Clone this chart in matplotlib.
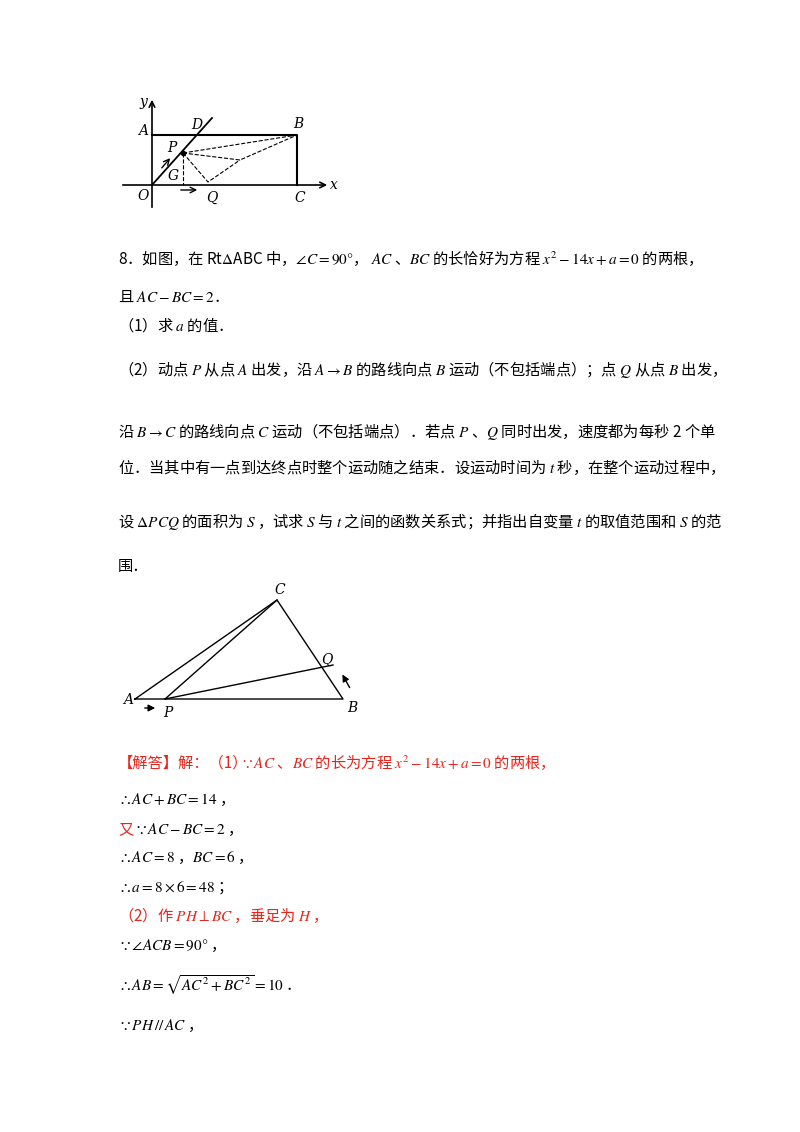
import matplotlib
matplotlib.use("Agg")
import matplotlib.pyplot as plt

plt.rcParams['font.family'] = ['Noto Sans CJK SC', 'DejaVu Sans']
plt.rcParams['mathtext.fontset'] = 'stix'

fig = plt.figure(figsize=(8, 11.32), dpi=100)
ax = fig.add_axes([0, 0, 1, 1])
ax.set_xlim(0, 800); ax.set_ylim(1132, 0); ax.axis('off')

# top diagram
O = (152, 185); A = (152, 135); B = (297, 135); C = (297, 185)
D = (200, 128); P = (183, 153); Q = (208, 182); G = (183, 185)
ax.annotate('', xy=(330, 185), xytext=(120, 185), arrowprops=dict(arrowstyle='->', lw=1.2))
ax.annotate('', xy=(152, 97), xytext=(152, 210), arrowprops=dict(arrowstyle='->', lw=1.2))
ax.plot([A[0], B[0], C[0]], [A[1], B[1], C[1]], 'k-', lw=1.5)
ax.plot([O[0], 212], [O[1], 118], 'k-', lw=1.3)
ax.plot([P[0], B[0]], [P[1], B[1]], 'k--', lw=0.8)
ax.plot([P[0], Q[0], 240], [P[1], Q[1], 160], 'k--', lw=0.8)
ax.plot([P[0], 240, B[0]], [P[1], 160, B[1]], 'k--', lw=0.8)
ax.plot([P[0], G[0]], [P[1], G[1]], 'k--', lw=0.8)
ax.plot(*P, 'ko', ms=3)
ax.annotate('', xy=(172, 156), xytext=(160, 170), arrowprops=dict(arrowstyle='->', lw=1))
ax.annotate('', xy=(200, 190), xytext=(178, 190), arrowprops=dict(arrowstyle='->', lw=1))
for t, x, y in [('y', 143, 102), ('A', 143, 131), ('D', 197, 125), ('B', 298, 124), ('P', 172, 148),
                ('G', 173, 176), ('O', 143, 196), ('Q', 212, 198), ('C', 300, 198), ('x', 334, 185)]:
    ax.text(x, y, t, fontsize=10, style='italic', family='DejaVu Serif', ha='center', va='center')

# triangle diagram
tA = (135, 699); tB = (343, 699); tC = (277, 600); tP = (165, 699); tQ = (333, 665)
ax.plot([tA[0], tB[0], tC[0], tA[0]], [tA[1], tB[1], tC[1], tA[1]], 'k-', lw=1)
ax.plot([tP[0], tC[0]], [tP[1], tC[1]], 'k-', lw=1)
ax.plot([tP[0], tQ[0]], [tP[1], tQ[1]], 'k-', lw=1)
ax.annotate('', xy=(158, 708), xytext=(142, 708), arrowprops=dict(arrowstyle='-|>', lw=1, color='k'))
ax.annotate('', xy=(341, 672), xytext=(351, 690), arrowprops=dict(arrowstyle='-|>', lw=1, color='k'))
for t, x, y in [('C', 280, 590), ('Q', 327, 660), ('A', 128, 700), ('P', 168, 713), ('B', 352, 708)]:
    ax.text(x, y, t, fontsize=10, style='italic', family='DejaVu Serif', ha='center', va='center')

fs = 11
red = '#e8241c'
def T(x, y, s, c='k', size=fs):
    ax.text(x, y, s, fontsize=size, color=c, va='center', ha='left')

T(118, 258, r'8．如图，在 Rt$\Delta$ABC 中，$\angle C=90°$， $AC$ 、$BC$ 的长恰好为方程 $x^2-14x+a=0$ 的两根，')
T(118, 297, r'且 $AC-BC=2$．')
T(118, 325, r'（1）求 $a$ 的值．')
T(118, 369, r'（2）动点 $P$ 从点 $A$ 出发，沿 $A\rightarrow B$ 的路线向点 $B$ 运动（不包括端点）；点 $Q$ 从点 $B$ 出发，')
T(118, 432, r'沿 $B\rightarrow C$ 的路线向点 $C$ 运动（不包括端点）．若点 $P$ 、$Q$ 同时出发，速度都为每秒 2 个单')
T(118, 467, r'位．当其中有一点到达终点时整个运动随之结束．设运动时间为 $t$ 秒，在整个运动过程中，')
T(118, 522, r'设 $\Delta PCQ$ 的面积为 $S$ ，试求 $S$ 与 $t$ 之间的函数关系式；并指出自变量 $t$ 的取值范围和 $S$ 的范')
T(118, 567, '围．')

T(118, 763, '【解答】解：（1）', red)
T(240, 763, r'$\because AC$ 、$BC$ 的长为方程 $x^2-14x+a=0$ 的两根，', red)
T(118, 800, r'$\therefore AC+BC=14$ ，')
ax.text(118, 830, '又', color=red, fontsize=fs, va='center')
T(134, 830, r'$\because AC-BC=2$ ，')
T(118, 858, r'$\therefore AC=8$ ，$BC=6$ ，')
T(118, 888, r'$\therefore a=8\times 6=48$ ；')
T(118, 915, r'（2）作 $PH\perp BC$ ，垂足为 $H$ ，', red)
T(118, 946, r'$\because \angle ACB=90°$ ，')
T(118, 985, r'$\therefore AB=\sqrt{AC^2+BC^2}=10$ ．')
T(118, 1025, r'$\because PH\,//\,AC$ ，')

fig.savefig('out.png', dpi=100)
